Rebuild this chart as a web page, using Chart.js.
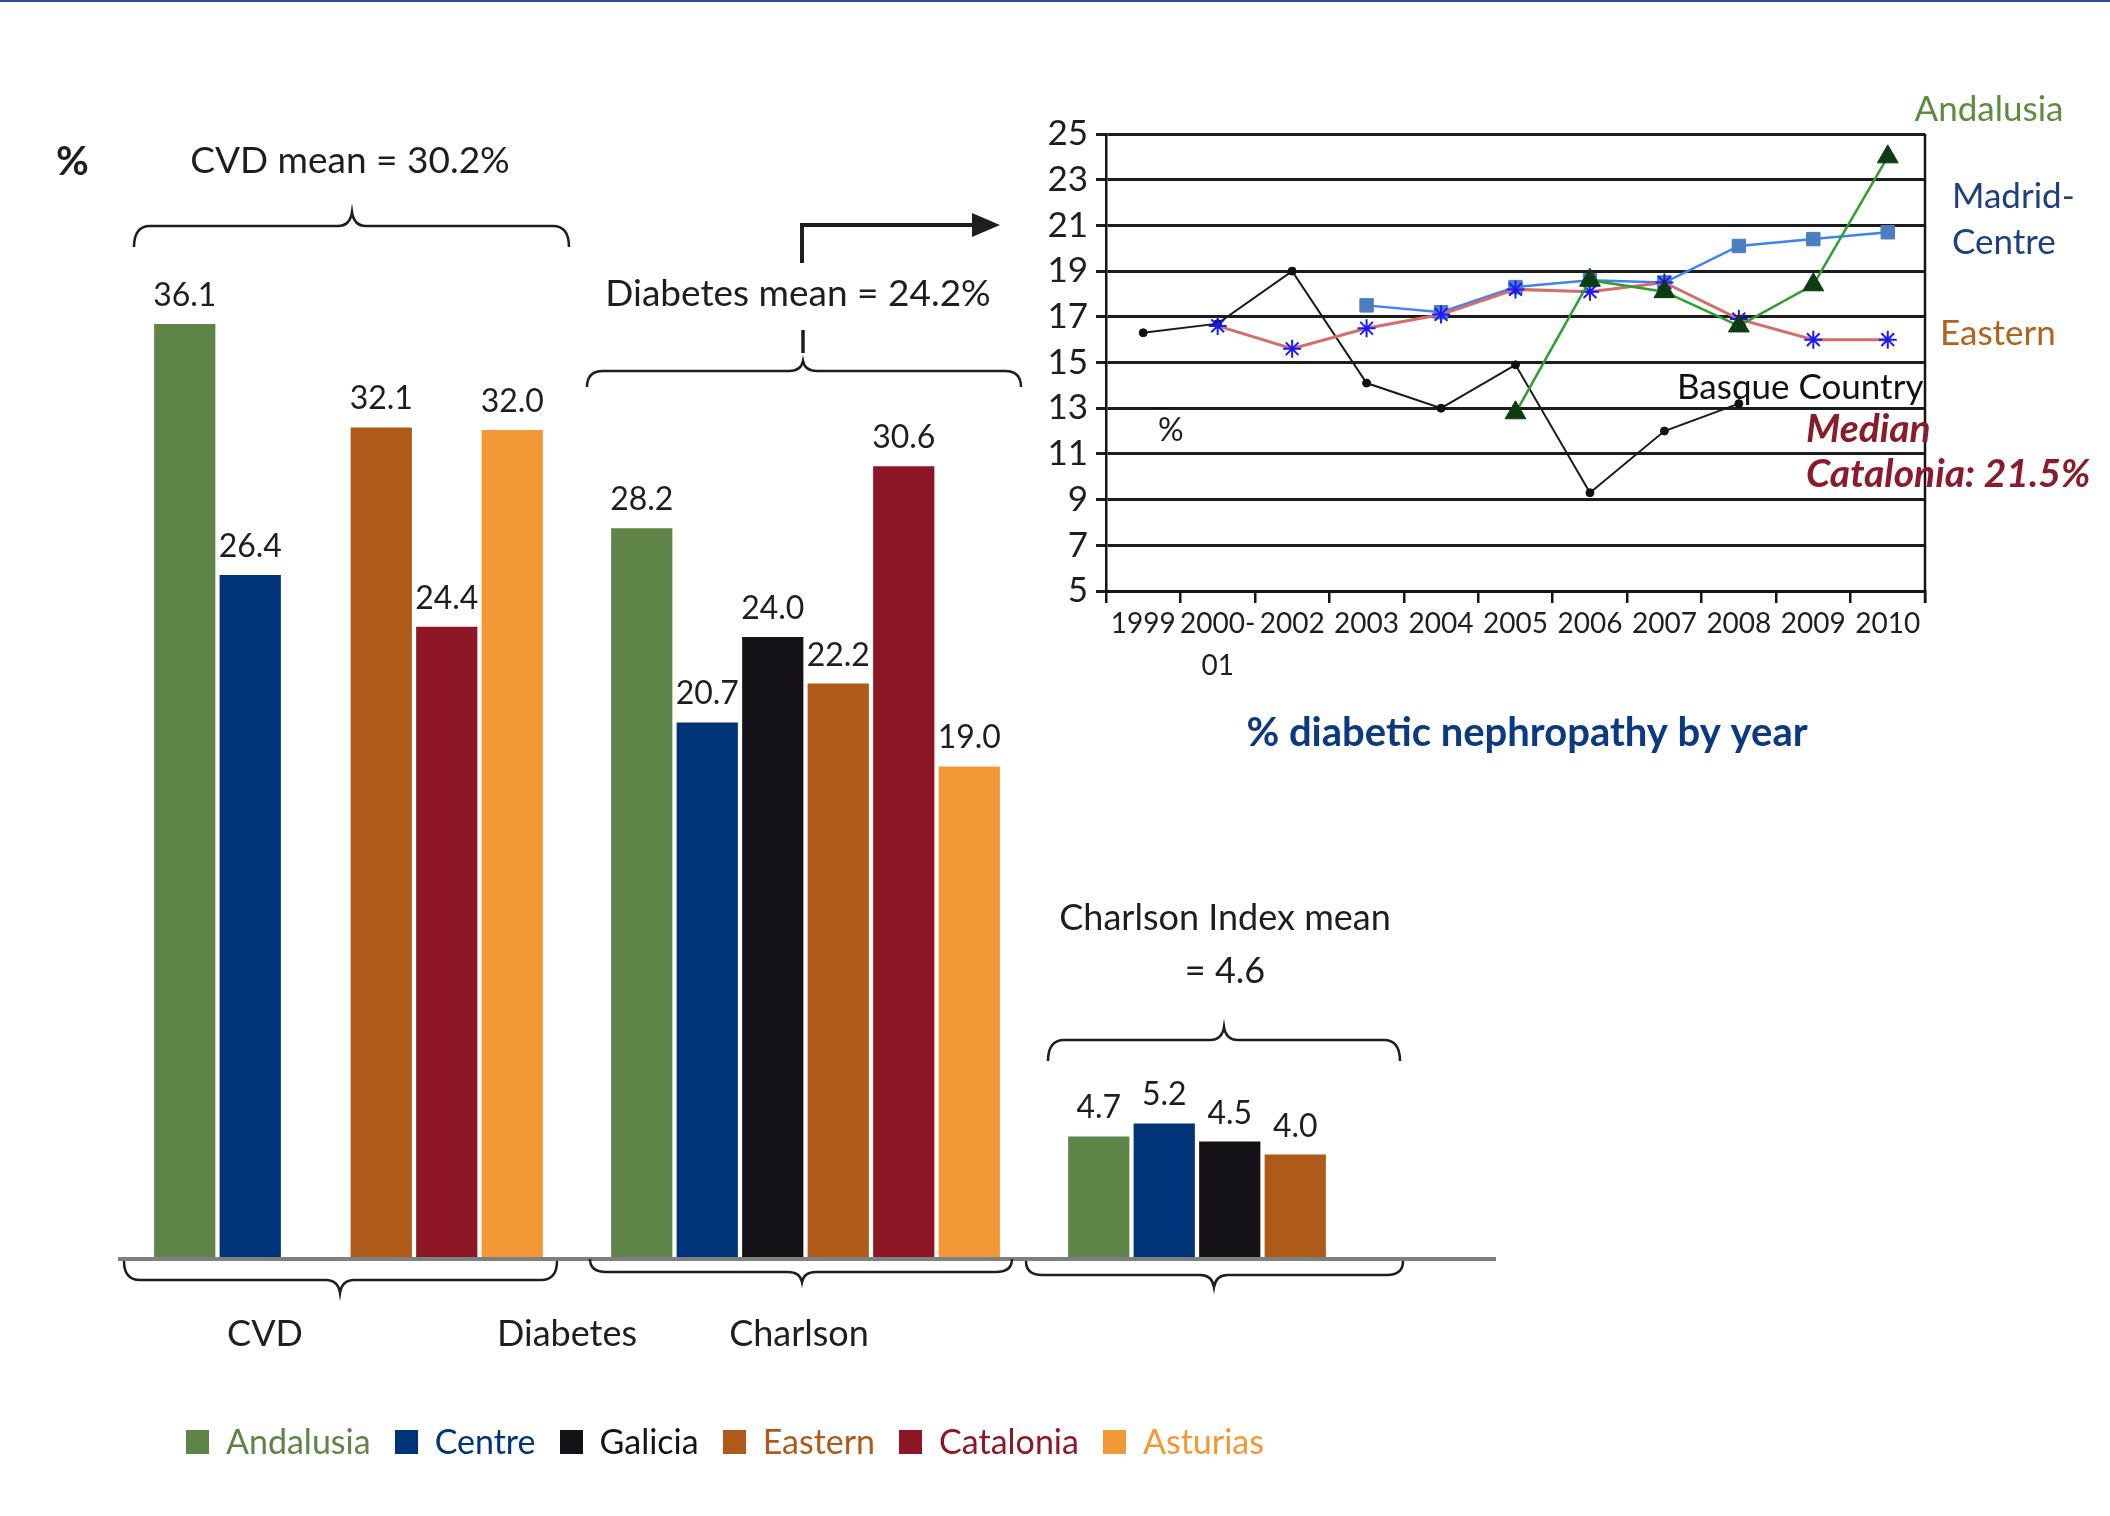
<!DOCTYPE html>
<html>
<head>
<meta charset="utf-8">
<script src="https://cdn.jsdelivr.net/npm/chart.js@4.4.1/dist/chart.umd.min.js"></script>
<style>
html,body{margin:0;padding:0;background:#fff;}
#wrap{position:relative;width:2110px;height:1516px;overflow:hidden;background:#fff;}
#topline{position:absolute;left:0;top:0;width:2110px;height:2px;background:#24508f;}
canvas{position:absolute;left:0;top:0;}
#legend{position:absolute;left:186px;top:1421px;font-family:Lato,'Open Sans',sans-serif;font-size:34px;line-height:40px;white-space:nowrap;}
#legend .item{display:inline-block;margin-right:24px;}
#legend .box{display:inline-block;width:23px;height:24px;margin-right:17px;vertical-align:baseline;}
</style>
</head>
<body>
<div id="wrap">
  <div id="topline"></div>
  <canvas id="bars" width="2110" height="1516"></canvas>
  <canvas id="lines" width="2110" height="1516"></canvas>
  <div id="legend"></div>
</div>
<script>
// ---------------- Bar chart data ----------------
const groups = ['CVD', 'Diabetes', 'Charlson'];
const regions = ['Andalusia', 'Centre', 'Galicia', 'Eastern', 'Catalonia', 'Asturias'];
const andalusia = [36.1, 28.2, 4.7];
const centre    = [26.4, 20.7, 5.2];
const galicia   = [null, 24.0, 4.5];
const eastern   = [32.1, 22.2, 4.0];
const catalonia = [24.4, 30.6, null];
const asturias  = [32.0, 19.0, null];
const regionColors = ['#5e8448', '#003478', '#141216', '#ae5a18', '#8e1726', '#f29836'];

// ---------------- Line chart data ----------------
const years = ['1999', ['2000-', '01'], '2002', '2003', '2004', '2005', '2006', '2007', '2008', '2009', '2010'];
const yTicks = [5, 7, 9, 11, 13, 15, 17, 19, 21, 23, 25];
const lineAndalusia = [null, null, null, null, null, 12.8, 18.6, 18.1, 16.6, 18.4, 24.0];
const lineEastern   = [null, 16.6, 15.6, 16.5, 17.1, 18.2, 18.1, 18.5, 16.9, 16.0, 16.0];
const lineMadrid    = [null, null, null, 17.5, 17.2, 18.3, 18.6, 18.5, 20.1, 20.4, 20.7];
const lineBasque    = [16.3, 16.7, 19.0, 14.1, 13.0, 14.9, 9.3, 12.0, 13.2, null, null];

const FONT = 'Lato, "Open Sans", sans-serif';

function brace(ctx, x1, x2, yLine, tipX, tipY, yEnd) {
  ctx.beginPath();
  ctx.moveTo(x1, yEnd);
  ctx.quadraticCurveTo(x1, yLine, x1 + 16, yLine);
  ctx.lineTo(tipX - 14, yLine);
  ctx.quadraticCurveTo(tipX - 2, yLine, tipX, tipY);
  ctx.quadraticCurveTo(tipX + 2, yLine, tipX + 14, yLine);
  ctx.lineTo(x2 - 16, yLine);
  ctx.quadraticCurveTo(x2, yLine, x2, yEnd);
  ctx.stroke();
}

function text(ctx, str, x, y, font, color, align) {
  ctx.font = font;
  ctx.fillStyle = color;
  ctx.textAlign = align || 'center';
  ctx.textBaseline = 'alphabetic';
  ctx.fillText(str, x, y);
}

const barAnnotations = {
  id: 'barAnnotations',
  afterDatasetsDraw(chart) {
    const ctx = chart.ctx;
    ctx.save();
    // value labels
    chart.data.datasets.forEach((ds, di) => {
      const meta = chart.getDatasetMeta(di);
      meta.data.forEach((bar, i) => {
        const v = ds.data[i];
        if (v === null || v === undefined) return;
        text(ctx, v.toFixed(1), bar.x, bar.y - 18, '32px ' + FONT, '#1e1e1e', 'center');
      });
    });
    // baseline
    const y0 = chart.scales.y.getPixelForValue(0);
    ctx.strokeStyle = '#7f7f7f';
    ctx.lineWidth = 4;
    ctx.beginPath();
    ctx.moveTo(chart.chartArea.left - 2, y0 + 1);
    ctx.lineTo(chart.chartArea.right + 5, y0 + 1);
    ctx.stroke();

    // braces
    ctx.strokeStyle = '#1e1e1e';
    ctx.lineWidth = 2.5;
    brace(ctx, 134, 569, 226, 352, 212, 247);
    brace(ctx, 587, 1021, 371, 803, 361, 387);
    brace(ctx, 1048, 1400, 1040, 1224, 1027, 1061);
    brace(ctx, 124, 557, 1280, 340, 1293, 1261);
    brace(ctx, 590, 1012, 1272, 802, 1282, 1259);
    brace(ctx, 1026, 1403, 1275, 1214, 1287, 1261);

    // leader + arrow
    ctx.lineWidth = 3.5;
    ctx.beginPath();
    ctx.moveTo(803, 330); ctx.lineTo(803, 353);
    ctx.stroke();
    ctx.lineWidth = 4;
    ctx.beginPath();
    ctx.moveTo(802, 263); ctx.lineTo(802, 225); ctx.lineTo(980, 225);
    ctx.stroke();
    ctx.fillStyle = '#1e1e1e';
    ctx.beginPath();
    ctx.moveTo(1000, 225); ctx.lineTo(972, 213); ctx.lineTo(972, 237); ctx.closePath();
    ctx.fill();

    // texts
    text(ctx, '%', 56, 175, 'bold 40px ' + FONT, '#1e1e1e', 'left');
    text(ctx, 'CVD mean = 30.2%', 350, 173, '37px ' + FONT, '#1e1e1e');
    text(ctx, 'Diabetes mean = 24.2%', 798, 306, '37px ' + FONT, '#1e1e1e');
    text(ctx, 'Charlson Index mean', 1225, 930, '36px ' + FONT, '#1e1e1e');
    text(ctx, '= 4.6', 1225, 983, '36px ' + FONT, '#1e1e1e');
    text(ctx, 'CVD', 265, 1346, '36px ' + FONT, '#1e1e1e');
    text(ctx, 'Diabetes', 567, 1346, '36px ' + FONT, '#1e1e1e');
    text(ctx, 'Charlson', 799, 1346, '36px ' + FONT, '#1e1e1e');
    ctx.restore();
  }
};

const lineAnnotations = {
  id: 'lineAnnotations',
  afterDraw(chart) {
    const ctx = chart.ctx;
    const a = chart.chartArea;
    ctx.save();
    ctx.strokeStyle = '#141414';
    ctx.lineWidth = 2.5;
    ctx.beginPath();
    ctx.moveTo(a.right, a.top);
    ctx.lineTo(a.right, a.bottom + 12);
    ctx.stroke();
    ctx.lineWidth = 2;
    ctx.beginPath();
    ctx.moveTo(1153, 408); ctx.lineTo(1169, 408);
    ctx.stroke();
    text(ctx, '%', 1158, 441, '32px ' + FONT, '#1e1e1e', 'left');
    text(ctx, 'Andalusia', 1989, 121, '35px ' + FONT, '#5e8c3f', 'center');
    text(ctx, 'Madrid-', 1952, 208, '35px ' + FONT, '#1e3f80', 'left');
    text(ctx, 'Centre', 1952, 254, '35px ' + FONT, '#1e3f80', 'left');
    text(ctx, 'Eastern', 1940, 345, '35px ' + FONT, '#b4611d', 'left');
    text(ctx, 'Basque Country', 1677, 399, '35px ' + FONT, '#111111', 'left');
    text(ctx, 'Median', 1806, 442, 'italic bold 39px ' + FONT, '#8b1a2a', 'left');
    text(ctx, 'Catalonia: 21.5%', 1806, 487, 'italic bold 39px ' + FONT, '#8b1a2a', 'left');
    text(ctx, '% diabetic nephropathy by year', 1527, 746, 'bold 40px ' + FONT, '#0b3a82', 'center');
    ctx.restore();
  }
};

function build() {
  const seriesValues = [andalusia, centre, galicia, eastern, catalonia, asturias];
  const barChart = new Chart(document.getElementById('bars'), {
    type: 'bar',
    data: {
      labels: groups,
      datasets: regions.map((r, i) => ({
        label: r,
        data: seriesValues[i],
        backgroundColor: regionColors[i],
        borderWidth: 0,
        barPercentage: 0.935,
        categoryPercentage: 0.86
      }))
    },
    options: {
      responsive: false,
      animation: false,
      devicePixelRatio: 1,
      layout: { padding: { left: 120, right: 619, top: 223, bottom: 258 } },
      plugins: { legend: { display: false }, tooltip: { enabled: false } },
      scales: {
        x: { display: false },
        y: { display: false, min: 0, max: 40 }
      }
    },
    plugins: [barAnnotations]
  });

  // HTML legend from the chart's datasets
  const leg = document.getElementById('legend');
  barChart.data.datasets.forEach(ds => {
    const item = document.createElement('span');
    item.className = 'item';
    const box = document.createElement('span');
    box.className = 'box';
    box.style.background = ds.backgroundColor;
    const t = document.createElement('span');
    t.textContent = ds.label;
    t.style.color = ds.backgroundColor;
    item.appendChild(box);
    item.appendChild(t);
    leg.appendChild(item);
  });

  new Chart(document.getElementById('lines'), {
    type: 'line',
    data: {
      labels: years,
      datasets: [
        { label: 'Andalusia', data: lineAndalusia, borderColor: '#2f9e2f', borderWidth: 2.5,
          pointStyle: 'triangle', pointRadius: 12, pointBackgroundColor: '#0f3b10', pointBorderColor: '#0f3b10', pointBorderWidth: 1 },
        { label: 'Eastern', data: lineEastern, borderColor: '#d56e6a', borderWidth: 3,
          pointStyle: 'star', pointRadius: 9, pointBorderColor: '#1a1aff', pointBackgroundColor: '#1a1aff', pointBorderWidth: 2 },
        { label: 'Madrid-Centre', data: lineMadrid, borderColor: '#3f82f2', borderWidth: 2.5,
          pointStyle: 'rect', pointRadius: 9.5, pointBackgroundColor: '#4a7ec0', pointBorderColor: '#4a7ec0', pointBorderWidth: 1 },
        { label: 'Basque Country', data: lineBasque, borderColor: '#1a1a1a', borderWidth: 2,
          pointStyle: 'circle', pointRadius: 4, pointBackgroundColor: '#111', pointBorderColor: '#111', pointBorderWidth: 1 }
      ]
    },
    options: {
      responsive: false,
      animation: false,
      devicePixelRatio: 1,
      layout: { padding: { left: 1026, right: 185, top: 134, bottom: 815 } },
      plugins: { legend: { display: false }, tooltip: { enabled: false } },
      elements: { line: { tension: 0 } },
      scales: {
        x: {
          offset: true,
          grid: { offset: true, drawOnChartArea: false, drawTicks: true, tickLength: 12, color: '#141414', lineWidth: 2.5 },
          border: { display: true, color: '#141414', width: 3 },
          ticks: { font: { family: FONT, size: 28, lineHeight: 1.5 }, color: '#1e1e1e', padding: 0, maxRotation: 0, autoSkip: false },
          afterFit(scale) { scale.height = 110; }
        },
        y: {
          min: 5, max: 25,
          afterBuildTicks(scale) { scale.ticks = yTicks.map(v => ({ value: v })); },
          grid: { color: '#1c1c1c', lineWidth: 3, tickLength: 10 },
          border: { display: true, color: '#141414', width: 2.5 },
          ticks: { font: { family: FONT, size: 35 }, color: '#1e1e1e', padding: 8 },
          afterFit(scale) { scale.width = 80; }
        }
      }
    },
    plugins: [lineAnnotations]
  });
}

if (document.fonts && document.fonts.load) {
  Promise.all([
    document.fonts.load('36px Lato'),
    document.fonts.load('bold 36px Lato'),
    document.fonts.load('italic bold 36px Lato')
  ]).then(build, build);
} else {
  build();
}
</script>
</body>
</html>
